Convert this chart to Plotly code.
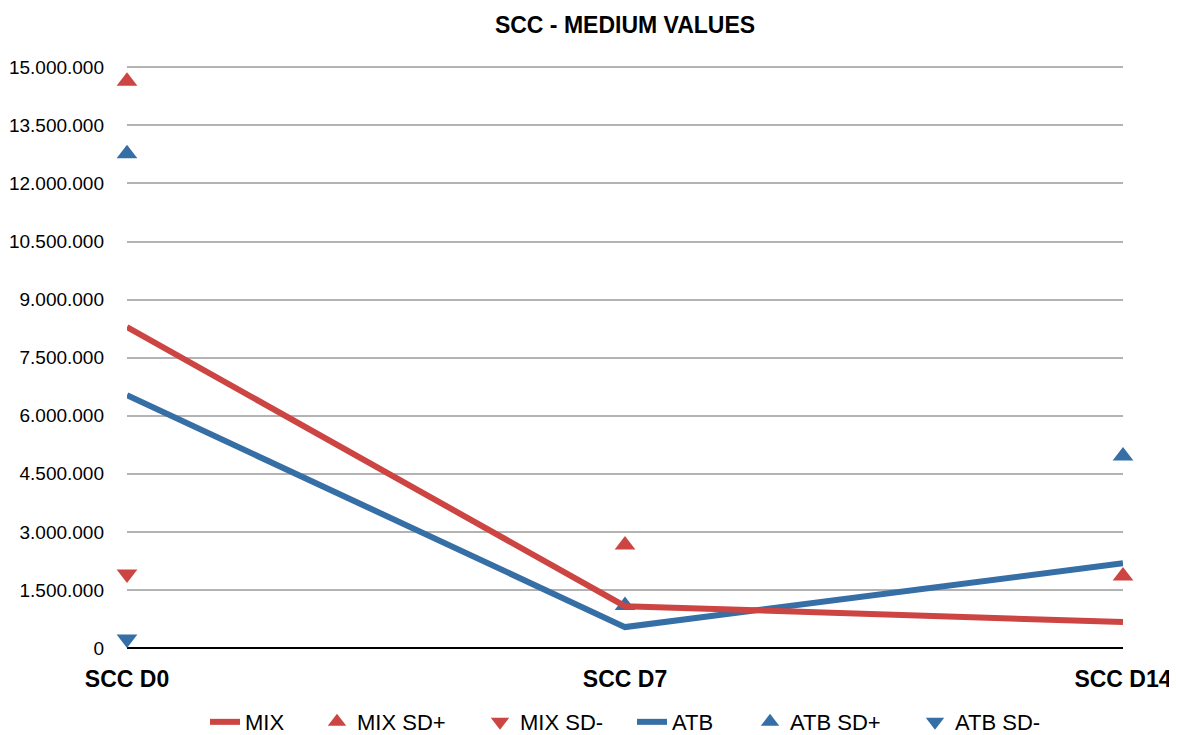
import plotly.graph_objects as go

categories = ["SCC D0", "SCC D7", "SCC D14"]
mix = [8290000, 1080000, 670000]
mix_sd_plus = [14640000, 2660000, 1860000]
mix_sd_minus = [1910000, -50000, -70000]
atb = [6530000, 540000, 2190000]
atb_sd_plus = [12770000, 1100000, 4960000]
atb_sd_minus = [230000, None, None]
y_ticks = [0, 1500000, 3000000, 4500000, 6000000, 7500000, 9000000,
           10500000, 12000000, 13500000, 15000000]

RED = "#cd4543"
BLUE = "#366ea6"
x_idx = list(range(len(categories)))

traces = {}
traces["MIX"] = go.Scatter(x=x_idx, y=mix, mode="lines", name="MIX", legend="legend",
                           line=dict(color=RED, width=6), cliponaxis=False)
traces["MIX SD+"] = go.Scatter(x=x_idx, y=mix_sd_plus, mode="markers", name="MIX SD+", legend="legend2",
                               marker=dict(symbol="triangle-up", size=18, color=RED), cliponaxis=False)
traces["MIX SD-"] = go.Scatter(x=x_idx, y=mix_sd_minus, mode="markers", name="MIX SD-", legend="legend3",
                               marker=dict(symbol="triangle-down", size=18, color=RED), cliponaxis=False)
traces["ATB"] = go.Scatter(x=x_idx, y=atb, mode="lines", name="ATB", legend="legend4",
                           line=dict(color=BLUE, width=6), cliponaxis=False)
traces["ATB SD+"] = go.Scatter(x=x_idx, y=atb_sd_plus, mode="markers", name="ATB SD+", legend="legend5",
                               marker=dict(symbol="triangle-up", size=18, color=BLUE), cliponaxis=False)
traces["ATB SD-"] = go.Scatter(x=x_idx, y=atb_sd_minus, mode="markers", name="ATB SD-", legend="legend6",
                               marker=dict(symbol="triangle-down", size=18, color=BLUE), cliponaxis=False)

fig = go.Figure()
for key in ["ATB", "ATB SD+", "ATB SD-", "MIX", "MIX SD+", "MIX SD-"]:
    fig.add_trace(traces[key])

# screen x of each legend entry's left edge (plot area spans 996 px from x=127)
legend_left_px = [205, 317, 480, 632, 750, 915]
legend_names = ["legend", "legend2", "legend3", "legend4", "legend5", "legend6"]
legend_layout = {}
for name, px in zip(legend_names, legend_left_px):
    legend_layout[name] = dict(orientation="v", x=(px - 127) / 996, xanchor="left",
                               y=-0.127, yanchor="middle", font=dict(size=22),
                               bgcolor="rgba(0,0,0,0)")

# The page body adds an 8px offset, so margins are shifted to compensate.
fig.update_layout(
    width=1177, height=735,
    paper_bgcolor="white", plot_bgcolor="white",
    separators=",.",
    font=dict(family="Liberation Sans, Arial, sans-serif", color="black", size=18),
    title=dict(text="<b>SCC - MEDIUM VALUES</b>", x=0.5, xref="paper", xanchor="center",
               y=0.977, yref="container", yanchor="middle", font=dict(size=23)),
    margin=dict(l=119, r=62, t=57, b=95, autoexpand=False),
    showlegend=True,
    xaxis=dict(tickmode="array", tickvals=x_idx,
               ticktext=["<b>%s</b>" % c for c in categories],
               range=[0, 2], showgrid=False, zeroline=False,
               showline=False, ticks="", tickfont=dict(size=23),
               ticklabelstandoff=15, automargin=False),
    yaxis=dict(range=[0, 15060000], tickmode="array", tickvals=y_ticks,
               tickformat=",d", showgrid=True, gridcolor="#b3b3b3", gridwidth=1.5,
               zeroline=True, zerolinecolor="black", zerolinewidth=1.5,
               showline=False, ticks="", tickfont=dict(size=19),
               ticklabelstandoff=22, automargin=False),
    **legend_layout,
)

fig.write_html("out.html")
